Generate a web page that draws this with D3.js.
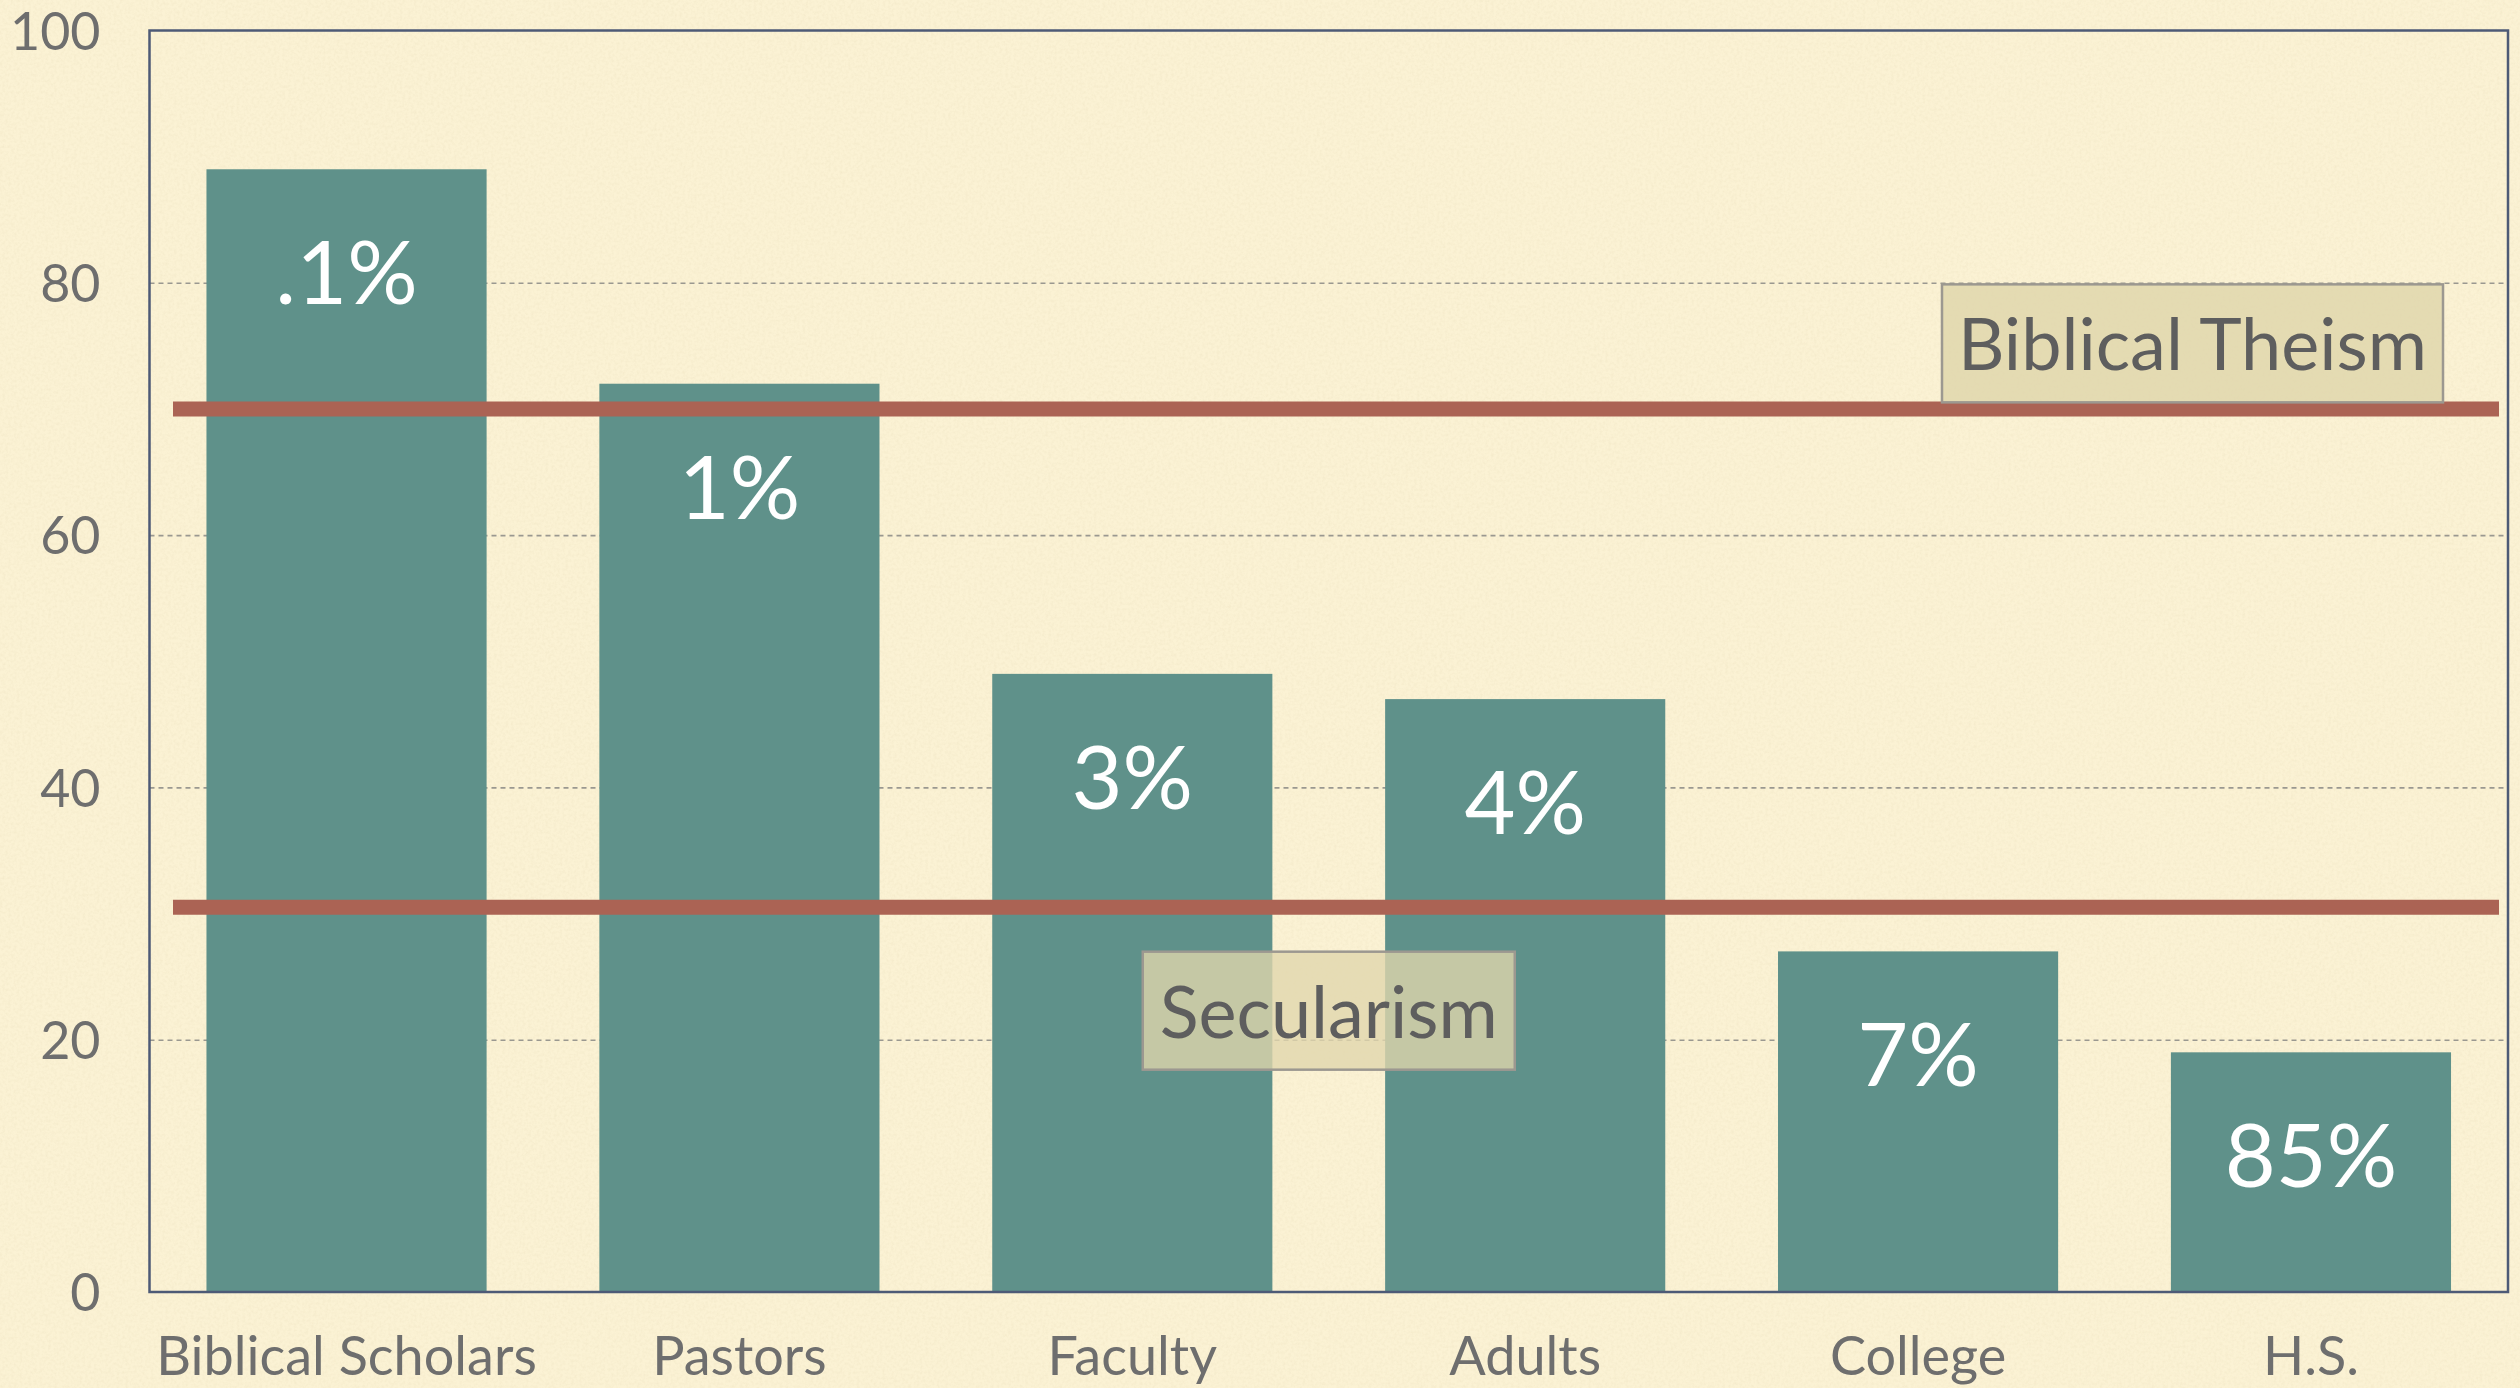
<!DOCTYPE html>
<html>
<head>
<meta charset="utf-8">
<script src="https://cdn.jsdelivr.net/npm/d3@7"></script>
<style>
  html, body { margin: 0; padding: 0; background: #fbf2d4; }
  svg { display: block; }
</style>
</head>
<body>
<svg id="chart"></svg>
<script>
// data
const categories = ["Biblical Scholars", "Pastors", "Faculty", "Adults", "College", "H.S."];
const values = [89, 72, 49, 47, 27, 19];
const barLabels = [".1%", "1%", "3%", "4%", "7%", "85%"];
const yTicks = [0, 20, 40, 60, 80, 100];
const refLines = [70, 30.5];
const notes = ["Biblical Theism", "Secularism"];

const width = 2520, height = 1388;
const margin = { top: 30.5, right: 12, bottom: 96, left: 149.5 };

const svg = d3.select("#chart").attr("width", width).attr("height", height);

// paper background with a little grain
const defs = svg.append("defs");
const grain = defs.append("filter").attr("id", "grain").attr("x", 0).attr("y", 0).attr("width", "100%").attr("height", "100%");
grain.append("feTurbulence").attr("type", "fractalNoise").attr("baseFrequency", 0.35).attr("numOctaves", 3).attr("seed", 4);
grain.append("feColorMatrix").attr("type", "matrix")
  .attr("values", "0 0 0 0 0.55  0 0 0 0 0.45  0 0 0 0 0.25  0 0 0 -1.6 1.0");

svg.append("rect").attr("width", width).attr("height", height).attr("fill", "#fbf2d4");
svg.append("rect").attr("width", width).attr("height", height).attr("filter", "url(#grain)").attr("opacity", 0.12);

const x = d3.scaleBand()
  .domain(categories)
  .range([margin.left, width - margin.right])
  .paddingInner(0.287)
  .paddingOuter(0.145);

const y = d3.scaleLinear().domain([0, 100]).range([height - margin.bottom, margin.top]);

// gridlines
const grid = svg.append("g")
  .attr("transform", `translate(${margin.left},0)`)
  .call(d3.axisLeft(y).tickValues(yTicks.filter(d => d > 0 && d < 100)).tickSize(-(width - margin.left - margin.right)).tickFormat(""));
grid.select(".domain").remove();
grid.selectAll(".tick line")
  .attr("stroke", "#9a9890")
  .attr("stroke-width", 1.6)
  .attr("stroke-dasharray", "5,4");

// bars
svg.append("g").selectAll("rect")
  .data(values)
  .join("rect")
  .attr("x", (d, i) => x(categories[i]))
  .attr("y", d => y(d))
  .attr("width", x.bandwidth())
  .attr("height", d => y(0) - y(d))
  .attr("fill", "#5f918a");

// white value labels inside bars
svg.append("g").selectAll("text")
  .data(values)
  .join("text")
  .attr("x", (d, i) => x(categories[i]) + x.bandwidth() / 2)
  .attr("y", d => y(d) + 135)
  .attr("text-anchor", "middle")
  .attr("fill", "#ffffff")
  .style("font-family", "Lato, 'Open Sans', sans-serif")
  .style("font-size", "88px")
  .text((d, i) => barLabels[i]);

// frame
svg.append("rect")
  .attr("x", margin.left)
  .attr("y", margin.top)
  .attr("width", width - margin.left - margin.right)
  .attr("height", height - margin.top - margin.bottom)
  .attr("fill", "none")
  .attr("stroke", "#4d5a76")
  .attr("stroke-width", 2.5);

// red reference lines
svg.append("g").selectAll("line")
  .data(refLines)
  .join("line")
  .attr("x1", margin.left + 23.5)
  .attr("x2", width - margin.right - 9)
  .attr("y1", d => y(d))
  .attr("y2", d => y(d))
  .attr("stroke", "#ab6354")
  .attr("stroke-width", 15);

// y axis labels
const yAxis = svg.append("g")
  .attr("transform", `translate(${margin.left - 49},0)`)
  .call(d3.axisLeft(y).tickValues(yTicks).tickSize(0).tickPadding(0));
yAxis.select(".domain").remove();
yAxis.selectAll("text")
  .attr("fill", "#6e6e6e")
  .attr("dy", "0.36em")
  .style("font-family", "Lato, 'Open Sans', sans-serif")
  .style("font-size", "52px");

// category labels
const xAxis = svg.append("g")
  .attr("transform", `translate(0,${y(0)})`)
  .call(d3.axisBottom(x).tickSize(0));
xAxis.select(".domain").remove();
xAxis.selectAll("text")
  .attr("y", 83)
  .attr("dy", 0)
  .attr("fill", "#6e6e6e")
  .style("font-family", "Lato, 'Open Sans', sans-serif")
  .style("font-size", "54px");

// annotation boxes
const boxes = [
  { text: notes[0], cx: 2192.5, cy: y(75.2), w: 501, h: 118, fill: "rgba(224,215,173,0.88)" },
  { text: notes[1], cx: (x("Faculty") + x("Adults")) / 2 + x.bandwidth() / 2, cy: y(22.3), w: 372, h: 118, fill: "rgba(224,215,173,0.79)" }
];
const box = svg.append("g").selectAll("g")
  .data(boxes)
  .join("g");
box.append("rect")
  .attr("x", d => d.cx - d.w / 2)
  .attr("y", d => d.cy - d.h / 2)
  .attr("width", d => d.w)
  .attr("height", d => d.h)
  .attr("fill", d => d.fill)
  .attr("stroke", "#9c9890")
  .attr("stroke-width", 2.5);
box.append("text")
  .attr("x", d => d.cx)
  .attr("y", d => d.cy + 27)
  .attr("text-anchor", "middle")
  .attr("fill", "#5e5e5e")
  .style("font-family", "Lato, 'Open Sans', sans-serif")
  .style("font-size", "72px")
  .text(d => d.text);
</script>
</body>
</html>
